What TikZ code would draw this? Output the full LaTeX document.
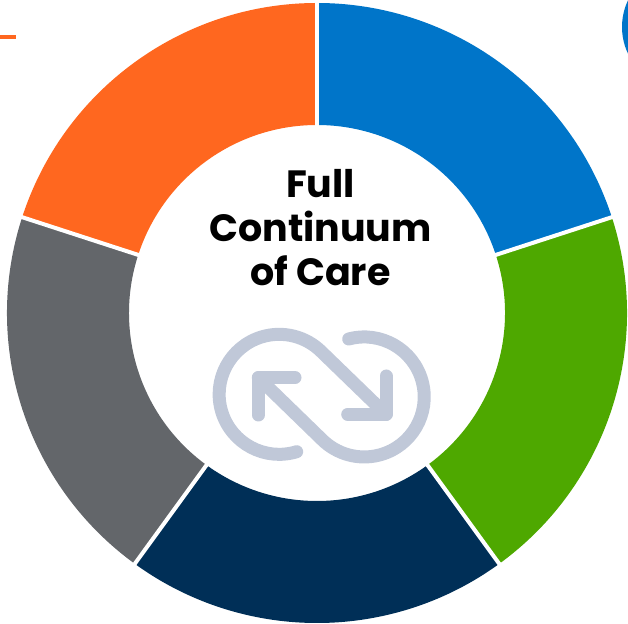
\documentclass[tikz,border=0pt]{standalone}
\usepackage{fontspec}
\setmainfont{Poppins}[BoldFont={Poppins Bold}]
\definecolor{segblue}{HTML}{0075C9}
\definecolor{seggreen}{HTML}{4EA800}
\definecolor{segnavy}{HTML}{002F57}
\definecolor{seggray}{HTML}{63666A}
\definecolor{segorange}{HTML}{FF671F}
\definecolor{iconcol}{HTML}{C0C8D8}
\tikzset{
  iconline/.style={draw=iconcol,line width=13pt,line cap=round,line join=round},
  divider/.style={draw=white,line width=4pt},
  titletext/.style={font=\bfseries\fontsize{38}{44}\selectfont,align=center,text=black,inner sep=0pt}
}
\newcommand{\ringseg}[3]{%
  \fill[#1] (317,310) ++(#2:310) arc[start angle=#2,end angle=#3,radius=310]
    -- ++(#3:-122) arc[start angle=#3,end angle=#2,radius=188] -- cycle;}
\begin{document}
\begin{tikzpicture}[x=1pt,y=1pt]
\useasboundingbox (0,0) rectangle (628,623);
\clip (0,0) rectangle (628,623);
% stray fragments at the edges
\fill[segorange] (0,584) rectangle (16,588);
\fill[segblue] (684,596) circle[radius=62];
% ring
\ringseg{segblue}{90}{18}
\ringseg{seggreen}{18}{-54}
\ringseg{segnavy}{-54}{-126}
\ringseg{seggray}{-126}{-198}
\ringseg{segorange}{162}{90}
\foreach \a in {90,18,-54,-126,-198}{
  \draw[divider] (317,310) ++(\a:186) -- ++(\a:126);
}
% title
\node[titletext] (title) at (320.5,395) {Full\\Continuum\\of Care};
% icon (y up: y = 623 - pixel y)
\draw[iconline] (296.7,171.3) arc[start angle=-73,end angle=-315,radius=60] -- (386,208.7);
\draw[iconline] (386,247) -- (386,208.7) -- (347.7,208.7);
\draw[iconline] (348.7,284) arc[start angle=105,end angle=-135,radius=60] -- (258.3,245.3);
\draw[iconline] (258.3,208) -- (258.3,245.3) -- (295,245.3);
\end{tikzpicture}
\end{document}
